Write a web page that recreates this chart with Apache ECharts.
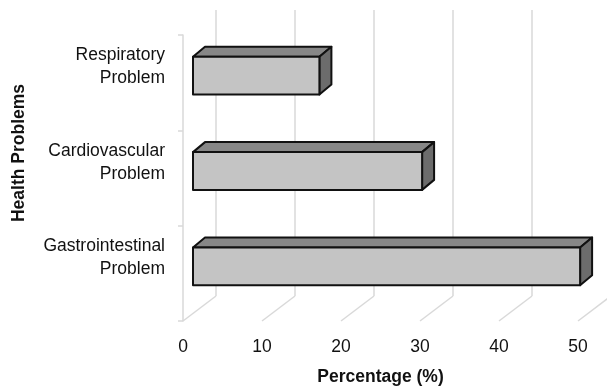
<!DOCTYPE html>
<html>
<head>
<meta charset="utf-8">
<script src="https://cdn.jsdelivr.net/npm/echarts@6/dist/echarts.min.js"></script>
<style>
  html, body { margin: 0; padding: 0; background: #fff; }
  #chart { width: 607px; height: 391px; }
</style>
</head>
<body>
<div id="chart"></div>
<script>
// Health problems reported, as a share of respondents
const categories = ['Respiratory\nProblem', 'Cardiovascular\nProblem', 'Gastrointestinal\nProblem'];
const percentages = [16, 29, 49];
const xTicks = [0, 10, 20, 30, 40, 50];

// Oblique 3D look: floor depth and the bar's own depth
const FLOOR_DX = 33, FLOOR_DY = -25;
const BAR_OFF_X = 10, BAR_OFF_Y = -7;
const BAR_DX = 12, BAR_DY = -10;
const GRID_COLOR = '#d9d9d9';
const FONT = '"Liberation Sans", Arial, sans-serif';

function renderFrame(params, api) {
  const v = api.value(0);
  const band = api.size([0, 1])[1];
  const front = api.coord([v, categories.length - 1]);
  const bottom = front[1] + band / 2;
  const top = api.coord([v, 0])[1] - band / 2;
  const x = front[0];
  const style = { stroke: GRID_COLOR, lineWidth: 1.5, fill: null };
  return {
    type: 'group',
    children: [
      { type: 'line', shape: { x1: x, y1: bottom, x2: x + FLOOR_DX, y2: bottom + FLOOR_DY }, style },
      { type: 'line', shape: { x1: x + FLOOR_DX, y1: bottom + FLOOR_DY, x2: x + FLOOR_DX, y2: top + FLOOR_DY }, style }
    ]
  };
}

function renderBar(params, api) {
  const val = api.value(0);
  const cat = api.value(1);
  const start = api.coord([0, cat]);
  const end = api.coord([val, cat]);
  const band = api.size([0, 1])[1];
  const h = band * 0.396;
  const x0 = start[0] + BAR_OFF_X;
  const x1 = end[0] + BAR_OFF_X;
  const yc = start[1] + BAR_OFF_Y;
  const yt = yc - h / 2, yb = yc + h / 2;
  const edge = { stroke: '#111', lineWidth: 2, lineJoin: 'round' };
  return {
    type: 'group',
    children: [
      { type: 'polygon', shape: { points: [[x0, yt], [x0 + BAR_DX, yt + BAR_DY], [x1 + BAR_DX, yt + BAR_DY], [x1, yt]] },
        style: Object.assign({ fill: '#878787' }, edge) },
      { type: 'polygon', shape: { points: [[x1, yt], [x1 + BAR_DX, yt + BAR_DY], [x1 + BAR_DX, yb + BAR_DY], [x1, yb]] },
        style: Object.assign({ fill: '#6c6c6c' }, edge) },
      { type: 'rect', shape: { x: x0, y: yt, width: x1 - x0, height: h },
        style: Object.assign({ fill: '#c4c4c4' }, edge) }
    ]
  };
}

const chart = echarts.init(document.getElementById('chart'), null, { renderer: 'canvas' });
chart.setOption({
  animation: false,
  backgroundColor: '#fff',
  grid: { left: 183, right: 29, top: 35, bottom: 68, containLabel: false },
  xAxis: {
    type: 'value',
    min: 0, max: 50, interval: 10,
    axisLine: { show: false },
    axisTick: { show: false },
    splitLine: { show: false },
    axisLabel: {
      margin: 17,
      color: '#111',
      fontFamily: FONT,
      fontSize: 17.5,
      formatter: v => xTicks.includes(v) ? String(v) : ''
    },
    name: 'Percentage (%)',
    nameLocation: 'middle',
    nameGap: 47,
    nameTextStyle: { color: '#111', fontFamily: FONT, fontSize: 17.5, fontWeight: 'bold' }
  },
  yAxis: {
    type: 'category',
    data: categories,
    inverse: true,
    axisLine: { show: true, lineStyle: { color: GRID_COLOR, width: 1.5 } },
    axisTick: { show: true, length: 5, lineStyle: { color: GRID_COLOR, width: 1.5 } },
    splitLine: { show: false },
    axisLabel: {
      margin: 18,
      color: '#111',
      fontFamily: FONT,
      fontSize: 17.5,
      lineHeight: 23,
      align: 'right',
      // a trailing spacer line lifts each label toward the bar's depth
      formatter: v => v + '\n{gap| }',
      rich: { gap: { lineHeight: 31, fontSize: 10 } }
    },
    name: 'Health Problems',
    nameLocation: 'middle',
    nameRotate: 90,
    nameGap: 155,
    nameTextStyle: { color: '#111', fontFamily: FONT, fontSize: 17.5, fontWeight: 'bold', padding: [0, 0, 0, 50] }
  },
  series: [
    {
      type: 'custom',
      name: 'frame',
      clip: false,
      silent: true,
      z: 1,
      renderItem: renderFrame,
      data: xTicks.map(v => [v, 0])
    },
    {
      type: 'custom',
      name: 'Percentage',
      clip: false,
      z: 3,
      renderItem: renderBar,
      encode: { x: 0, y: 1 },
      data: percentages.map((p, i) => [p, i])
    }
  ]
});
</script>
</body>
</html>
